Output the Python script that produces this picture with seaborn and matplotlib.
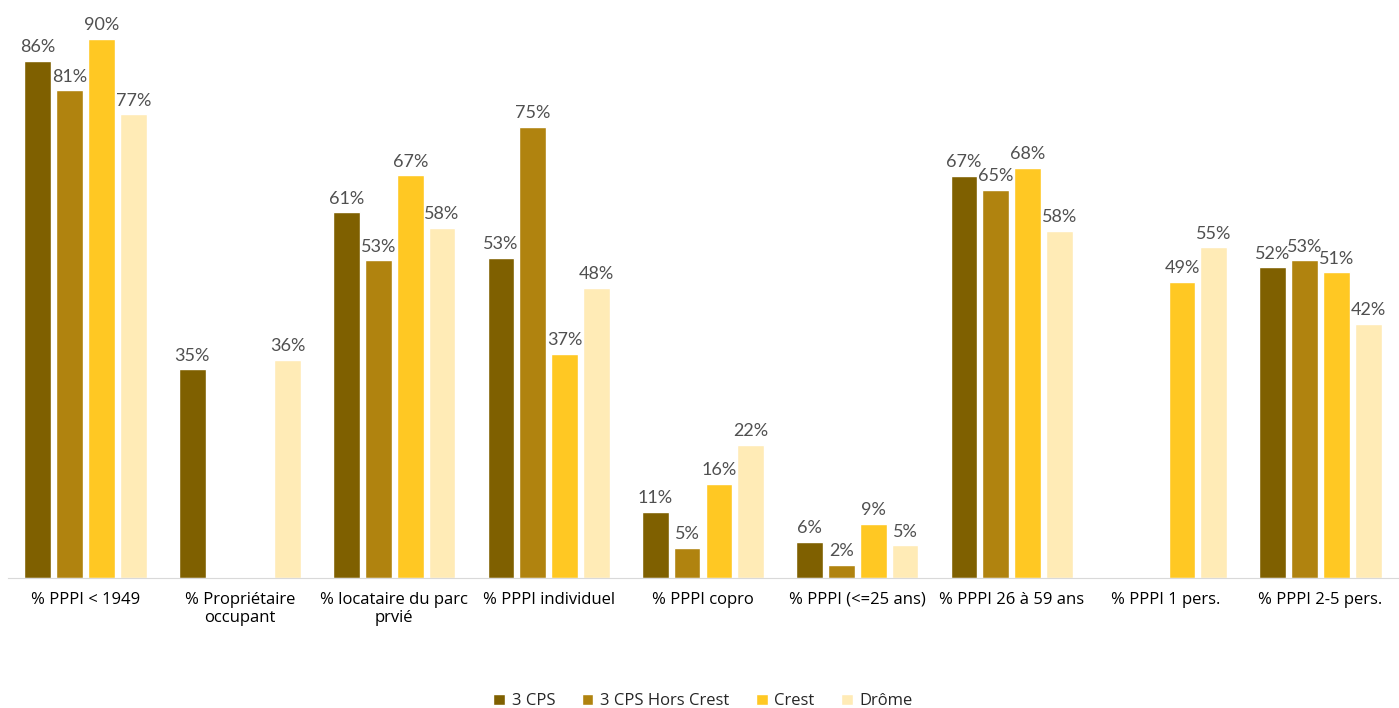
import seaborn as sns
import matplotlib.pyplot as plt
import numpy as np
import pandas as pd

categories = ["% PPPI < 1949", "% Propriétaire\noccupant", "% locataire du parc\nprvié",
              "% PPPI individuel", "% PPPI copro", "% PPPI (<=25 ans)",
              "% PPPI 26 à 59 ans", "% PPPI 1 pers.", "% PPPI 2-5 pers."]
series = ["3 CPS", "3 CPS Hors Crest", "Crest", "Drôme"]

cps = [86.3, 34.8, 61.0, 53.4, 11.0, 6.0, 67.1, np.nan, 51.8]
cps_hors_crest = [81.4, np.nan, 53.0, 75.3, 5.0, 2.2, 64.8, np.nan, 53.0]
crest = [90.0, np.nan, 67.2, 37.4, 15.7, 9.0, 68.4, 49.4, 51.0]
drome = [77.4, 36.4, 58.4, 48.4, 22.2, 5.4, 57.9, 55.2, 42.4]

colors = ["#7F6000", "#B0830F", "#FFC823", "#FFEBB6"]

df = pd.DataFrame({
    "cat": categories * 4,
    "serie": [s for s in series for _ in categories],
    "val": cps + cps_hors_crest + crest + drome,
})

sns.set_style("white")
plt.rcParams["font.family"] = ["Open Sans", "DejaVu Sans"]

fig, ax = plt.subplots(figsize=(13.99, 7.08), dpi=100)
sns.barplot(data=df, x="cat", y="val", hue="serie", hue_order=series,
            palette=colors, saturation=1, width=0.825, gap=0.16, ax=ax, legend=True)

# étiquettes de données
for cont in ax.containers:
    labels = ["" if np.isnan(v) else f"{v:.0f}%" for v in cont.datavalues]
    ax.bar_label(cont, labels=labels, padding=4, fontsize=13, color="#505050",
                 family=["Lato", "DejaVu Sans"])

ax.set_ylim(0, 93.5)
ax.set_xlim(-0.5, 8.5)
ax.set_xlabel("")
ax.set_ylabel("")
ax.set_yticks([])
for s in ["top", "right", "left"]:
    ax.spines[s].set_visible(False)
ax.spines["bottom"].set_color("#D9D9D9")
ax.tick_params(axis="x", length=0, labelsize=12, pad=10, colors="#000000")

ax.legend(loc="lower center", bbox_to_anchor=(0.5, -0.262), ncol=4, frameon=False,
          fontsize=12, handlelength=0.7, handleheight=0.7, handletextpad=0.4,
          columnspacing=1.6)

plt.subplots_adjust(left=0.006, right=0.999, top=0.975, bottom=0.184)
plt.savefig("out.png", dpi=100)
